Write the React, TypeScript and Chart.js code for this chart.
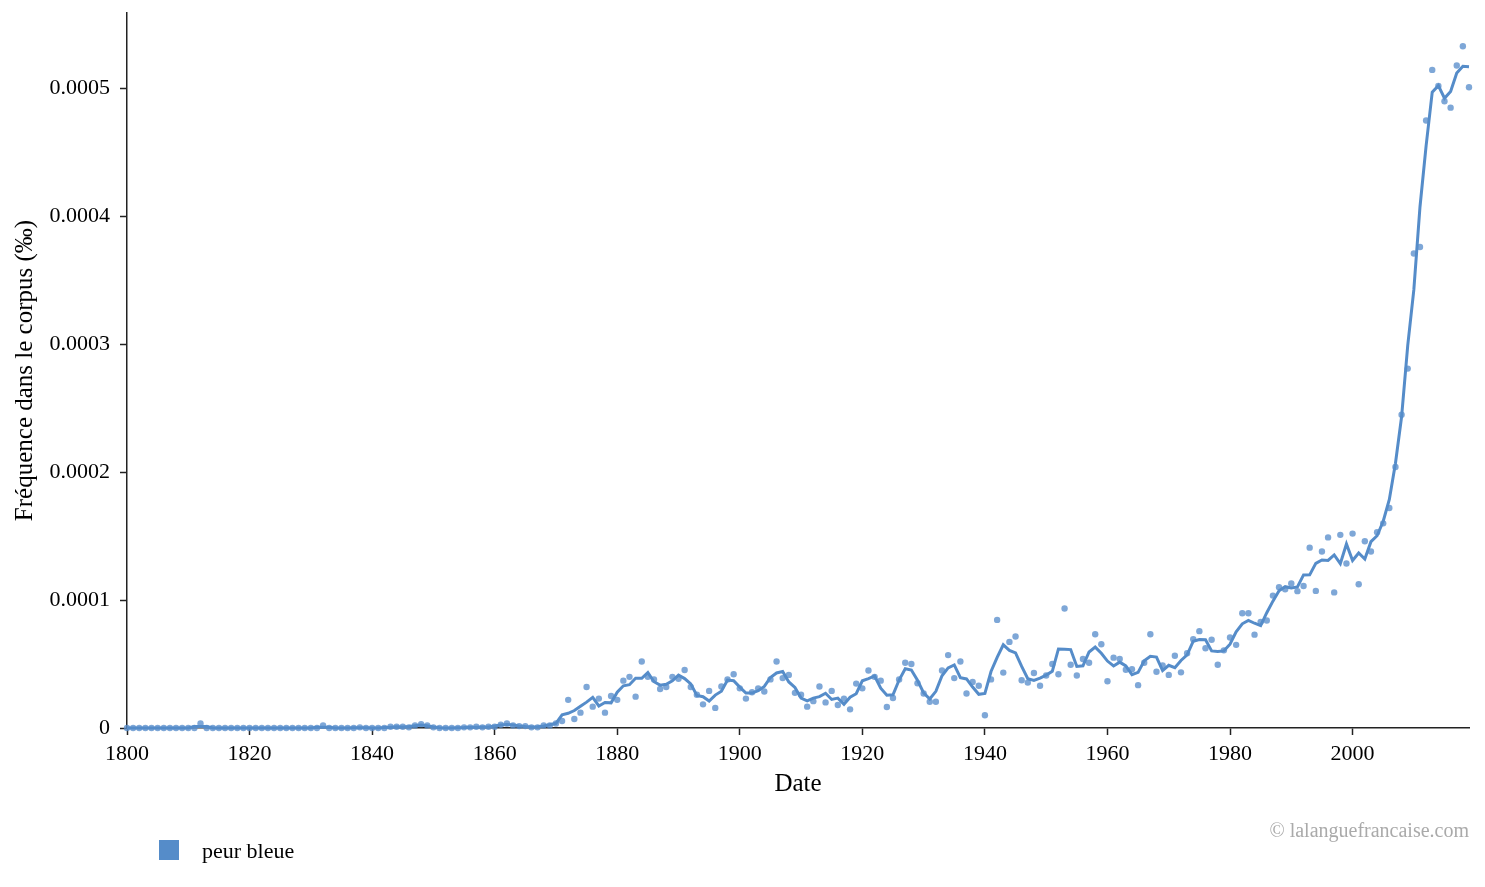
import React, { useEffect, useRef } from "react";
import { Chart, registerables } from "chart.js";

Chart.register(...registerables);

// Years 1800..2019
const startYear = 1800;
const endYear = 2019;

// Frequencies in units of 1e-5 ‰, one decade per array
const v1800 = [0, 0, 0, 0, 0, 0, 0, 0, 0, 0];
const v1810 = [0, 0, 0.35, 0, 0, 0, 0, 0, 0, 0];
const v1820 = [0, 0, 0, 0, 0, 0, 0, 0, 0, 0];
const v1830 = [0, 0, 0.2, 0, 0, 0, 0, 0, 0.05, 0];
const v1840 = [0, 0, 0, 0.1, 0.1, 0.1, 0.05, 0.2, 0.3, 0.2];
const v1850 = [0.05, 0, 0, 0, 0, 0.05, 0.05, 0.1, 0.05, 0.1];
const v1860 = [0.1, 0.25, 0.35, 0.2, 0.15, 0.15, 0.05, 0.05, 0.2, 0.2];
const v1870 = [0.35, 0.55, 2.2, 0.7, 1.2, 3.2, 1.67, 2.3, 1.2, 2.5];
const v1880 = [2.2, 3.7, 4.0, 2.45, 5.2, 4.0, 3.8, 3.05, 3.2, 4.0];
const v1890 = [3.85, 4.54, 3.2, 2.6, 1.85, 2.9, 1.57, 3.25, 3.8, 4.2];
const v1900 = [3.1, 2.3, 2.8, 3.1, 2.85, 3.8, 5.2, 3.9, 4.15, 2.75];
const v1910 = [2.6, 1.67, 2.1, 3.25, 2.0, 2.9, 1.8, 2.3, 1.46, 3.47];
const v1920 = [3.1, 4.5, 4.0, 3.7, 1.64, 2.35, 3.8, 5.1, 5.0, 3.5];
const v1930 = [2.7, 2.05, 2.05, 4.5, 5.7, 3.9, 5.2, 2.7, 3.6, 3.3];
const v1940 = [1.0, 3.8, 8.45, 4.33, 6.73, 7.15, 3.73, 3.55, 4.3, 3.3];
const v1950 = [4.1, 5.0, 4.2, 9.34, 4.95, 4.1, 5.4, 5.1, 7.33, 6.55];
const v1960 = [3.65, 5.5, 5.4, 4.55, 4.6, 3.35, 5.1, 7.33, 4.4, 4.9];
const v1970 = [4.15, 5.65, 4.35, 5.85, 6.94, 7.57, 6.24, 6.9, 4.95, 6.07];
const v1980 = [7.07, 6.5, 8.97, 8.97, 7.3, 8.3, 8.4, 10.35, 11.0, 10.85];
const v1990 = [11.3, 10.7, 11.1, 14.1, 10.72, 13.8, 14.9, 10.6, 15.1, 12.86];
const v2000 = [15.2, 11.24, 14.6, 13.8, 15.3, 16.0, 17.2, 20.4, 24.5, 28.1];
const v2010 = [37.1, 37.6, 47.5, 51.45, 50.2, 49.0, 48.5, 51.8, 53.3, 50.1];

const xTickLabels = [1800, 1820, 1840, 1860, 1880, 1900, 1920, 1940, 1960, 1980, 2000];
const yTickValues = [0, 0.0001, 0.0002, 0.0003, 0.0004, 0.0005];

const seriesName = "peur bleue";
const yTitle = "Fréquence dans le corpus (‰)";
const xTitle = "Date";
const credit = "© lalanguefrancaise.com";

const FONT = '"Liberation Serif", "Times New Roman", serif';
const LINE_COLOR = "#558cc9";
const DOT_COLOR = "rgba(90,142,204,0.78)";

export default function App() {
  const ref = useRef<HTMLCanvasElement | null>(null);

  useEffect(() => {
    document.body.style.margin = "0";
    const raw = [
      ...v1800, ...v1810, ...v1820, ...v1830, ...v1840, ...v1850, ...v1860,
      ...v1870, ...v1880, ...v1890, ...v1900, ...v1910, ...v1920, ...v1930,
      ...v1940, ...v1950, ...v1960, ...v1970, ...v1980, ...v1990, ...v2000, ...v2010,
    ];
    const years = raw.map((_, i) => startYear + i);
    const values = raw.map((v) => v * 1e-5);
    // centred 3-year rolling mean, as the original chart's trend line
    const smooth = values.map((_, i) => {
      let s = 0;
      let n = 0;
      for (let k = i - 1; k <= i + 1; k++) {
        if (k >= 0 && k < values.length) {
          s += values[k];
          n++;
        }
      }
      return s / n;
    });

    const ctx = ref.current!.getContext("2d")!;
    const chart = new Chart(ctx, {
      type: "line",
      data: {
        datasets: [
          {
            label: seriesName + " (tendance)",
            data: years.map((y, i) => ({ x: y, y: smooth[i] })),
            borderColor: LINE_COLOR,
            borderWidth: 3,
            pointRadius: 0,
            tension: 0,
            fill: false,
            order: 0,
          },
          {
            label: seriesName,
            data: years.map((y, i) => ({ x: y, y: values[i] })),
            showLine: false,
            pointRadius: 3.2,
            pointBorderWidth: 0,
            pointBackgroundColor: DOT_COLOR,
            backgroundColor: DOT_COLOR,
            borderColor: DOT_COLOR,
            order: 1,
          },
        ],
      },
      options: {
        animation: false,
        responsive: false,
        maintainAspectRatio: false,
        clip: false as any,
        layout: { padding: { top: 13, right: 16, bottom: 84, left: 0 } },
        plugins: {
          legend: { display: false },
          tooltip: { enabled: false },
        },
        scales: {
          x: {
            type: "linear",
            min: startYear,
            max: endYear,
            afterBuildTicks: (scale: any) => {
              scale.ticks = xTickLabels.map((v) => ({ value: v }));
            },
            afterFit: (scale: any) => {
              scale.height = 75;
              scale.paddingLeft = 0;
              scale.paddingRight = 0;
            },
            grid: {
              display: true,
              drawOnChartArea: false,
              drawTicks: true,
              tickLength: 7,
              tickColor: "#222",
              tickWidth: 1.5,
            },
            border: { display: true, color: "#222", width: 1.5 },
            ticks: {
              color: "#000",
              font: { family: FONT, size: 22 },
              padding: 6,
              maxRotation: 0,
              autoSkip: false,
              callback: (v: any) => String(v),
            },
            title: {
              display: true,
              text: xTitle,
              color: "#000",
              font: { family: FONT, size: 25 },
              padding: { top: 0, bottom: 4 },
            },
          },
          y: {
            type: "linear",
            min: 0,
            max: 0.000559,
            afterBuildTicks: (scale: any) => {
              scale.ticks = yTickValues.map((v) => ({ value: v }));
            },
            afterFit: (scale: any) => {
              scale.width = 127;
              scale.paddingTop = 0;
              scale.paddingBottom = 0;
            },
            grid: {
              display: true,
              drawOnChartArea: false,
              drawTicks: true,
              tickLength: 7,
              tickColor: "#222",
              tickWidth: 1.5,
            },
            border: { display: true, color: "#222", width: 1.5 },
            ticks: {
              color: "#000",
              font: { family: FONT, size: 22 },
              padding: 10,
              autoSkip: false,
              callback: (v: any) => (v === 0 ? "0" : Number(v).toFixed(4)),
            },
            title: {
              display: true,
              text: yTitle,
              color: "#000",
              font: { family: FONT, size: 25 },
              padding: { top: 10, bottom: 0 },
            },
          },
        },
      },
    });
    return () => chart.destroy();
  }, []);

  return (
    <div style={{ position: "relative", width: 1485, height: 887, background: "#fff" }}>
      <canvas ref={ref} width={1485} height={887} style={{ width: 1485, height: 887, display: "block" }} />
      <div
        style={{
          position: "absolute",
          left: 159,
          top: 840,
          width: 20,
          height: 20,
          background: LINE_COLOR,
        }}
      />
      <div
        style={{
          position: "absolute",
          left: 202,
          top: 836,
          fontFamily: FONT,
          fontSize: 22,
          lineHeight: "30px",
          color: "#000",
          whiteSpace: "nowrap",
        }}
      >
        {seriesName}
      </div>
      <div
        style={{
          position: "absolute",
          right: 16,
          top: 816,
          fontFamily: FONT,
          fontSize: 20,
          lineHeight: "28px",
          color: "#aaa",
          whiteSpace: "nowrap",
        }}
      >
        {credit}
      </div>
    </div>
  );
}
